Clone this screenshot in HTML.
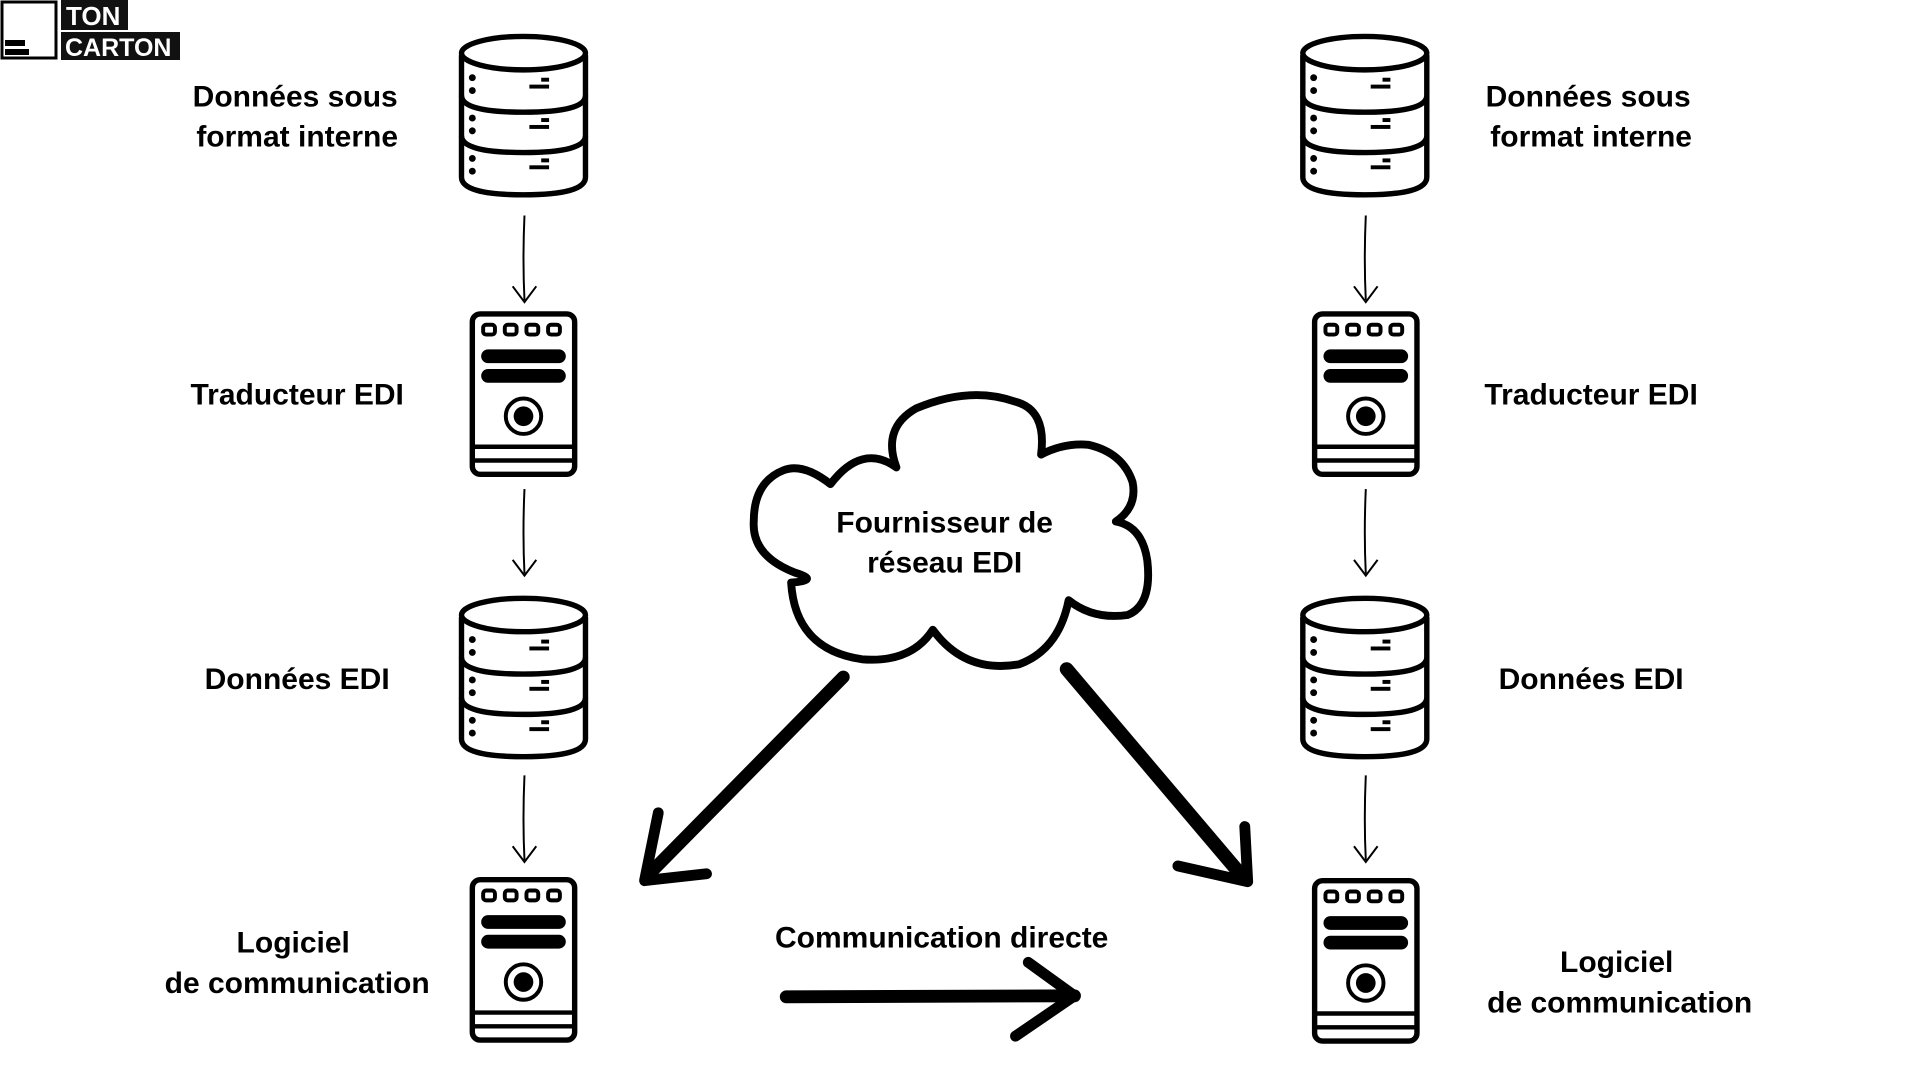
<!DOCTYPE html>
<html><head><meta charset="utf-8"><style>
html,body{margin:0;padding:0;background:#fff;width:1920px;height:1080px;overflow:hidden}
svg{position:absolute;left:0;top:0}
text{font-family:"Liberation Sans",sans-serif;font-weight:bold;fill:#000}
</style></head><body>
<svg width="1920" height="1080" viewBox="0 0 1920 1080">
<defs>
<g id="db">
 <g fill="none" stroke="#000" stroke-width="5.5" stroke-linejoin="round">
  <path d="M3,22 L3,146 Q3,164 66,164 Q129,164 129,146 L129,22"/>
  <ellipse cx="66" cy="20" rx="63" ry="17"/>
  <path d="M3,63 Q3,80 66,80 Q129,80 129,63"/>
  <path d="M3,104 Q3,121 66,121 Q129,121 129,104"/>
 </g>
 <g fill="#000">
  <circle cx="14" cy="45" r="3.5"/><circle cx="14" cy="58" r="3.5"/>
  <circle cx="14" cy="86" r="3.5"/><circle cx="14" cy="99" r="3.5"/>
  <circle cx="14" cy="127" r="3.5"/><circle cx="14" cy="140" r="3.5"/>
  <rect x="72" y="52" width="20" height="4"/><rect x="84" y="45" width="8" height="4"/>
  <rect x="72" y="93" width="20" height="4"/><rect x="84" y="86" width="8" height="4"/>
  <rect x="72" y="134" width="20" height="4"/><rect x="84" y="127" width="8" height="4"/>
 </g>
</g>
<g id="srv">
 <rect x="3" y="3" width="104" height="163" rx="8" fill="none" stroke="#000" stroke-width="5.5"/>
 <g fill="none" stroke="#000" stroke-width="4">
  <rect x="14" y="14" width="12" height="10" rx="3"/>
  <rect x="36" y="14" width="12" height="10" rx="3"/>
  <rect x="58" y="14" width="12" height="10" rx="3"/>
  <rect x="80" y="14" width="12" height="10" rx="3"/>
  <circle cx="55" cy="107" r="18"/>
 </g>
 <rect x="12" y="39" width="86" height="14" rx="7" fill="#000"/>
 <rect x="12" y="59" width="86" height="14" rx="7" fill="#000"/>
 <circle cx="55" cy="107" r="10" fill="#000"/>
 <line x1="3" y1="138" x2="107" y2="138" stroke="#000" stroke-width="4.5"/>
 <line x1="3" y1="152" x2="107" y2="152" stroke="#000" stroke-width="4.5"/>
</g>
<g id="arr">
 <path d="M0,0 Q-2,45 0,86" fill="none" stroke="#000" stroke-width="2"/>
 <path d="M-12,72 L0,88 L12,72" fill="none" stroke="#000" stroke-width="2"/>
</g>
</defs>

<!-- logo -->
<rect x="2" y="2" width="54" height="56" fill="#fff" stroke="#000" stroke-width="3"/>
<rect x="5" y="40" width="20" height="6" fill="#000"/>
<rect x="5" y="49" width="24" height="6" fill="#000"/>
<rect x="61" y="0" width="67" height="30" fill="#111"/>
<rect x="61" y="32" width="119" height="28" fill="#111"/>
<text x="66" y="25" font-size="26" style="fill:#fff">TON</text>
<text x="65" y="56" font-size="25" style="fill:#fff">CARTON</text>

<g transform="scale(0.984)">
<use href="#db" x="466" y="34"/>
<use href="#arr" x="533" y="219"/>
<use href="#srv" x="477" y="316"/>
<use href="#arr" x="533" y="497"/>
<use href="#db" x="466" y="605"/>
<use href="#arr" x="533" y="788"/>
<use href="#srv" x="477" y="891"/>

<use href="#db" x="1321" y="34"/>
<use href="#arr" x="1388" y="219"/>
<use href="#srv" x="1333" y="316"/>
<use href="#arr" x="1388" y="497"/>
<use href="#db" x="1321" y="605"/>
<use href="#arr" x="1388" y="788"/>
<use href="#srv" x="1333" y="892"/>

<g font-size="30.5" text-anchor="middle">
 <text x="300" y="108">Données sous</text>
 <text x="302" y="149">format interne</text>
 <text x="302" y="411">Traducteur EDI</text>
 <text x="302" y="700">Données EDI</text>
 <text x="298" y="968">Logiciel</text>
 <text x="302" y="1009">de communication</text>
 <text x="1614" y="108">Données sous</text>
 <text x="1617" y="149">format interne</text>
 <text x="1617" y="411">Traducteur EDI</text>
 <text x="1617" y="700">Données EDI</text>
 <text x="1643" y="988">Logiciel</text>
 <text x="1646" y="1029">de communication</text>
 <text x="960" y="541">Fournisseur de</text>
 <text x="960" y="582">réseau EDI</text>
 <text x="957" y="963">Communication directe</text>
</g>

<g transform="translate(-4,20)">
<path d="M848,472 Q820,450 800,458 Q770,470 770,510 Q768,545 812,562 Q838,570 808,572 Q812,640 880,650 Q930,654 952,620 Q985,665 1040,655 Q1080,640 1090,590 Q1115,610 1150,605 Q1175,595 1170,550 Q1165,515 1138,510 Q1160,495 1155,470 Q1145,440 1110,432 Q1085,430 1062,442 Q1068,396 1035,388 Q990,372 935,395 Q900,415 915,455 Q880,430 848,472 Z" fill="none" stroke="#000" stroke-width="8" stroke-linejoin="round"/>
</g>

<g fill="none" stroke="#000" stroke-linecap="round" stroke-linejoin="round">
 <path d="M857,688 L660,888" stroke-width="13"/>
 <path d="M669,826 L655,895 L718,888" stroke-width="11"/>
 <path d="M1084,680 L1262,890" stroke-width="14"/>
 <path d="M1265,840 L1268,896 L1197,880" stroke-width="11"/>
 <path d="M799,1013 L1092,1012" stroke-width="13"/>
 <path d="M1045,978 L1092,1012 L1032,1053" stroke-width="11"/>
</g>
</g>
</svg>
</body></html>
